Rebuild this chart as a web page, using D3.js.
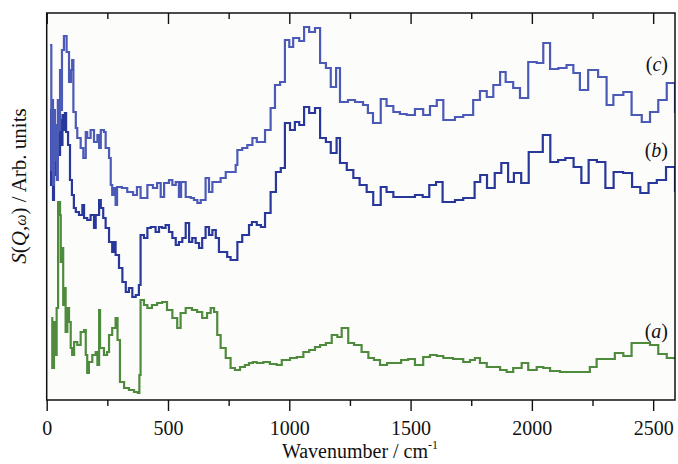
<!DOCTYPE html>
<html>
<head>
<meta charset="utf-8">
<script src="https://cdn.jsdelivr.net/npm/d3@7"></script>
<style>
  html, body { margin: 0; padding: 0; background: #ffffff; }
  svg { display: block; }
  text { font-family: "Liberation Serif", "DejaVu Serif", serif; fill: #111; }
</style>
</head>
<body>
<svg id="chart" width="678" height="464"></svg>
<script>
// ---- data (wavenumber in cm^-1, intensity in arbitrary units) ----
const xMajorTicks = [0, 500, 1000, 1500, 2000, 2500];
const xMinorTicks = [250, 750, 1250, 1750, 2250];

const seriesLabels = ["(a)", "(b)", "(c)"];

const seriesA = [
  [19,82],[23,32],[30,78],[34,45],[41,92],[47,198],[55,185],[58,138],[63,152],[68,95],[73,112],
  [78,68],[85,92],[92,78],[99,52],[105,45],[113,58],[126,55],[140,68],[154,70],[161,45],[167,27],
  [174,38],[188,45],[202,48],[209,35],[216,90],[220,52],[236,45],[249,48],[257,65],[270,72],[284,82],
  [292,60],[302,18],[319,12],[339,10],[360,8],[376,7],[382,25],[387,100],[401,95],[415,92],[434,95],
  [455,97],[476,98],[496,90],[518,82],[538,72],[552,87],[573,92],[599,90],[620,88],[641,82],[661,87],
  [676,92],[690,88],[703,65],[717,52],[738,42],[758,32],[776,30],[797,33],[817,35],[834,37],[850,38],
  [866,37],[893,38],[920,36],[948,35],[969,40],[1003,42],[1031,43],[1058,48],[1082,50],[1106,53],
  [1127,55],[1151,57],[1175,65],[1198,63],[1216,72],[1243,57],[1267,55],[1298,48],[1326,42],[1349,40],
  [1374,35],[1403,37],[1432,37],[1461,40],[1490,41],[1518,35],[1552,43],[1580,45],[1608,44],[1635,42],
  [1675,41],[1717,38],[1745,40],[1765,42],[1786,37],[1814,33],[1869,30],[1896,28],[1923,32],[1958,37],
  [1985,30],[2020,33],[2047,32],[2075,29],[2116,28],[2171,28],[2239,33],[2267,41],[2342,47],[2377,44],
  [2411,57],[2487,55],[2521,46],[2556,42],[2590,42]
];

const seriesB = [
  [14,290],[18,215],[22,280],[26,200],[30,260],[34,225],[38,275],[42,235],[46,265],[50,245],[55,280],
  [60,255],[65,285],[70,270],[75,287],[80,268],[88,255],[96,220],[104,205],[112,192],[120,188],
  [133,185],[147,195],[154,182],[167,180],[181,185],[195,172],[202,185],[216,200],[223,192],[233,182],
  [243,172],[257,158],[270,148],[277,158],[284,145],[298,132],[312,118],[326,108],[339,112],[353,103],
  [367,105],[380,115],[387,165],[401,162],[415,172],[429,173],[449,168],[463,173],[476,172],[490,175],
  [504,168],[518,162],[532,155],[545,158],[559,162],[573,177],[587,158],[600,162],[614,157],[628,152],
  [641,162],[655,173],[669,165],[683,170],[697,162],[710,148],[731,148],[744,143],[758,140],[776,140],
  [786,158],[806,165],[820,165],[834,175],[846,178],[866,175],[883,173],[900,187],[923,208],[945,228],
  [965,232],[982,277],[1003,270],[1023,278],[1041,275],[1061,293],[1082,287],[1106,292],[1127,262],
  [1151,258],[1171,247],[1195,262],[1209,237],[1237,230],[1264,222],[1290,215],[1319,208],[1346,195],
  [1377,213],[1401,208],[1429,203],[1518,205],[1550,203],[1577,215],[1605,218],[1632,198],[1683,200],
  [1717,202],[1764,218],[1787,225],[1815,212],[1847,227],[1874,237],[1902,218],[1926,227],[1956,217],
  [1987,248],[2013,248],[2045,265],[2076,238],[2108,240],[2138,242],[2172,233],[2204,217],[2234,240],
  [2268,238],[2303,212],[2337,228],[2376,227],[2413,213],[2447,207],[2481,217],[2515,220],[2553,233],
  [2590,208]
];

const seriesC = [
  [14,355],[19,230],[22,300],[26,215],[30,290],[34,240],[38,275],[42,220],[46,300],[50,270],[55,330],
  [59,290],[63,350],[71,364],[82,348],[92,318],[100,330],[105,340],[110,288],[120,272],[126,262],
  [140,252],[151,242],[161,268],[167,262],[181,270],[195,258],[209,265],[216,252],[223,270],[236,268],
  [243,252],[257,242],[264,215],[270,205],[277,212],[284,195],[290,213],[310,212],[332,208],[356,205],
  [372,213],[387,202],[415,215],[438,212],[455,217],[470,203],[484,217],[504,220],[518,215],[532,218],
  [545,203],[554,218],[573,203],[594,202],[607,200],[621,197],[635,200],[655,222],[669,208],[683,218],
  [703,218],[717,222],[738,228],[758,228],[779,235],[786,250],[806,252],[827,255],[848,262],[866,258],
  [900,270],[923,292],[941,315],[962,318],[982,360],[1000,353],[1016,362],[1041,359],[1061,373],
  [1082,368],[1106,372],[1127,337],[1151,332],[1171,313],[1193,332],[1209,298],[1242,300],[1271,298],
  [1304,295],[1324,287],[1345,277],[1377,301],[1401,294],[1429,288],[1456,286],[1484,285],[1518,291],
  [1552,285],[1580,294],[1608,300],[1635,280],[1683,283],[1717,285],[1758,300],[1786,309],[1814,303],
  [1841,315],[1869,328],[1892,318],[1923,312],[1951,302],[1985,338],[2020,337],[2047,357],[2075,331],
  [2109,332],[2143,335],[2171,327],[2198,310],[2232,330],[2273,323],[2308,295],[2336,305],[2377,308],
  [2411,285],[2453,278],[2487,288],[2521,300],[2556,317],[2590,287]
];

const seriesColors = ["#4f8b3d", "#28379a", "#4b5ab6"];

// ---- layout ----
const svg = d3.select("#chart");
const mLeft = 46.7, mRight = 675, mTop = 13, mBottom = 400;

const x = d3.scaleLinear().domain([0, 2590]).range([mLeft, mRight]);
const y = d3.scaleLinear().domain([0, 387]).range([mBottom, mTop]);

svg.append("rect").attr("x", mLeft).attr("y", mTop)
  .attr("width", mRight - mLeft).attr("height", mBottom - mTop)
  .attr("fill", "#fcfcfa");

svg.append("defs").append("clipPath").attr("id", "clip")
  .append("rect").attr("x", mLeft).attr("y", mTop)
  .attr("width", mRight - mLeft).attr("height", mBottom - mTop);

const line = d3.line()
  .x(d => x(d[0])).y(d => y(d[1]))
  .curve(d3.curveStepAfter);

const g = svg.append("g").attr("clip-path", "url(#clip)");
[seriesA, seriesB, seriesC].forEach((s, i) => {
  g.append("path").datum(s)
    .attr("d", line)
    .attr("fill", "none")
    .attr("stroke", seriesColors[i])
    .attr("stroke-width", 2.2)
    .attr("stroke-linejoin", "miter");
});

// ---- axes ----
const axisStyle = sel => {
  sel.select(".domain").remove();
  sel.selectAll("line").attr("stroke", "#111").attr("stroke-width", 1.4);
};

svg.append("g").attr("transform", `translate(0,${mBottom})`)
  .call(d3.axisBottom(x).tickValues(xMajorTicks).tickSize(11).tickPadding(10).tickFormat(d3.format("d")))
  .call(axisStyle)
  .call(sel => sel.selectAll("text")
    .attr("font-family", "Liberation Serif, serif")
    .attr("font-size", 20).attr("fill", "#111"));

svg.append("g").attr("transform", `translate(0,${mBottom})`)
  .call(d3.axisBottom(x).tickValues(xMinorTicks).tickSize(6).tickFormat(""))
  .call(axisStyle);

svg.append("g").attr("transform", `translate(0,${mTop})`)
  .call(d3.axisTop(x).tickValues(xMajorTicks).tickSize(-11).tickFormat(""))
  .call(axisStyle);

svg.append("g").attr("transform", `translate(0,${mTop})`)
  .call(d3.axisTop(x).tickValues(xMinorTicks).tickSize(-6).tickFormat(""))
  .call(axisStyle);

// frame
svg.append("rect").attr("x", mLeft).attr("y", mTop)
  .attr("width", mRight - mLeft).attr("height", mBottom - mTop)
  .attr("fill", "none").attr("stroke", "#111").attr("stroke-width", 1.5);

// ---- titles ----
const xt = svg.append("text")
  .attr("x", 360).attr("y", 458)
  .attr("text-anchor", "middle")
  .attr("font-size", 20);
xt.append("tspan").text("Wavenumber / cm");
xt.append("tspan").attr("dy", -9).attr("font-size", 12).text("-1");

const yt = svg.append("text")
  .attr("transform", "translate(26,186) rotate(-90)")
  .attr("text-anchor", "middle")
  .attr("font-size", 21);
yt.append("tspan").attr("font-style", "italic").text("S");
yt.append("tspan").text("(");
yt.append("tspan").attr("font-style", "italic").text("Q");
yt.append("tspan").text(",");
yt.append("tspan").attr("font-style", "italic").attr("font-size", 16).text("ω");
yt.append("tspan").text(") / Arb. units");

// series labels
const labelPos = [338, 157, 71];
seriesLabels.forEach((lab, i) => {
  const t = svg.append("text")
    .attr("x", 668).attr("y", labelPos[i])
    .attr("text-anchor", "end")
    .attr("font-size", 20);
  t.append("tspan").text("(");
  t.append("tspan").attr("font-style", "italic").text(lab.slice(1, -1));
  t.append("tspan").text(")");
});
</script>
</body>
</html>
